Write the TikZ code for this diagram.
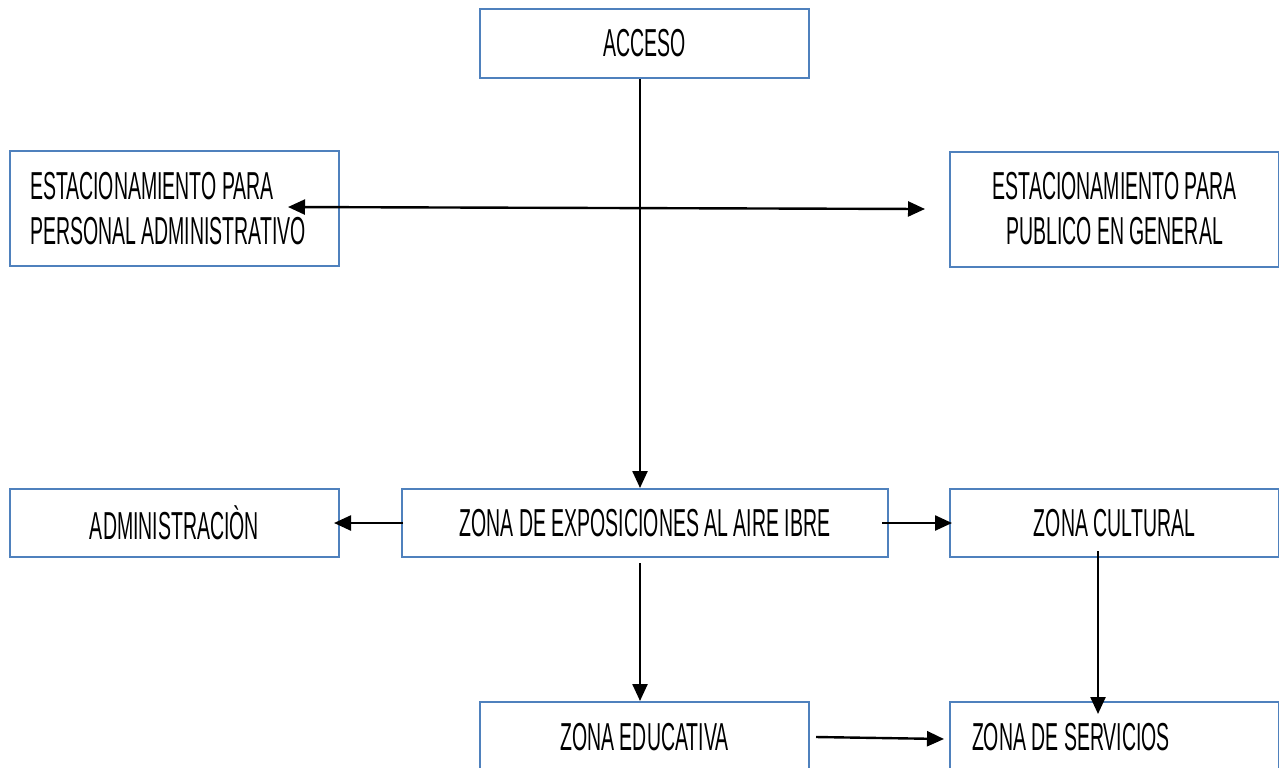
\documentclass[tikz,border=0pt]{standalone}
\usepackage{fontspec}
\setmainfont[FakeStretch=0.5]{Liberation Sans}
\usetikzlibrary{arrows.meta,positioning,calc}
\definecolor{boxblue}{HTML}{4F81BD}

\begin{document}
\begin{tikzpicture}[x=0.5pt,y=-0.5pt,font=\fontsize{19.5}{22.5}\selectfont,
  zona/.style={draw=boxblue,line width=1pt,minimum width=164.5pt,minimum height=34.5pt,inner sep=0pt,align=center},
  zonaizq/.style={zona,inner xsep=10pt,text width=144.5pt,align=flush left},
  parq/.style={zona,minimum height=57.5pt},
  flecha/.style={line width=1.2pt,-{Triangle[length=8.5pt,width=7.5pt]}}]
  \clip (0,0) rectangle (1279,767);
  \fill[white] (0,0) rectangle (1279,767);
  \node[zona] (acceso) at (644.5,43.5) {ACCESO};
  \node[parq,inner xsep=10pt,text width=144.5pt,align=flush left] (estadmin) at (174.5,208.5) {ESTACIONAMIENTO PARA\\PERSONAL ADMINISTRATIVO};
  \node[parq] (estpublico) at (1114.5,209) {ESTACIONAMIENTO PARA\\PUBLICO EN GENERAL};
  \node[zona,minimum height=34pt] (admin) at (174.5,523) {ADMINISTRACIÒN};
  \node[zona,minimum height=34pt,minimum width=243pt] (expo) at (645,523) {ZONA DE EXPOSICIONES AL AIRE IBRE};
  \node[zona,minimum height=34pt] (cultural) at (1114.5,523) {ZONA CULTURAL};
  \node[zona,minimum height=35pt] (educativa) at (644.5,737) {ZONA EDUCATIVA};
  \node[zonaizq,minimum height=35pt,inner xsep=11pt,text width=142.5pt] (servicios) at (1114.5,737) {ZONA DE SERVICIOS};
  % double arrow between the two parkings
  \coordinate (parqizq) at (288,207);
  \coordinate (parqder) at (925,209);
  \draw[flecha] ([xshift=-2.25pt]acceso.south) -- ([xshift=-2.25pt]acceso.south |- expo.north);
  \draw[line width=1.2pt,{Triangle[length=8.5pt,width=7.5pt]}-{Triangle[length=8.5pt,width=7.5pt]}] (parqizq) -- (parqder);
  \draw[flecha] ([xshift=1pt]expo.west) -- ([xshift=-3pt]admin.east);
  \draw[flecha] ([xshift=-3.5pt]expo.east) -- ([xshift=1.5pt]cultural.west);
  \draw[flecha] ([xshift=-2.5pt,yshift=-2.5pt]expo.south) -- ([xshift=-2.5pt]expo.south |- educativa.north);
  \draw[flecha] ([xshift=-8.25pt,yshift=3.5pt]cultural.south) -- ([xshift=-8.25pt,yshift=-6.5pt]cultural.south |- servicios.north);
  \draw[flecha] ([xshift=3pt]educativa.east) -- ([xshift=-2.5pt,yshift=-1pt]servicios.west);
\end{tikzpicture}
\end{document}
